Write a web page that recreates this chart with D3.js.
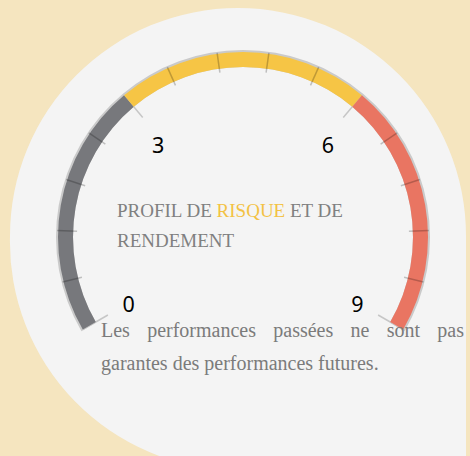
<!DOCTYPE html>
<html>
<head>
<meta charset="utf-8">
<script src="https://cdn.jsdelivr.net/npm/d3@7"></script>
<style>
	html, body { margin: 0; padding: 0; background: #f5e5bf; }
	svg { display: block; }
</style>
</head>
<body>
<script>
// gauge data
const bounds = [0, 3, 6, 9];
const bandColors = ["#77787c", "#f6c545", "#e97562"];
const majorTicks = [0, 3, 6, 9];
const minorTicks = [0.6, 1.2, 1.8, 2.4, 3.6, 4.2, 4.8, 5.4, 6.6, 7.2, 7.8, 8.4];
const titleParts = [["PROFIL DE ", "#808080"], ["RISQUE", "#f3c244"], [" ET DE", "#808080"]];
const titleLine2 = "RENDEMENT";
const footerLine1 = ["Les", "performances", "passées", "ne", "sont", "pas"];
const footerLine2 = "garantes des performances futures.";

const width = 470, height = 456;
const cx = 243, cy = 237;
const rOuter = 185, rInner = 170;

let svg = d3.select("body").append("svg")
	.attr("width", width)
	.attr("height", height);

// background bubble
svg.append("path")
	.attr("d", "M10,236 A228,228 0 0 1 238,8 A228,228 0 0 1 466,236 L466,470 L238,470 A228,228 0 0 1 10,236 Z")
	.attr("fill", "#f4f4f4");

let angle = d3.scaleLinear()
	.domain([0, 9])
	.range([-120 * Math.PI / 180, 120 * Math.PI / 180]);

let pt = (v, r) => [r * Math.sin(angle(v)), -r * Math.cos(angle(v))];

let g = svg.append("g")
	.attr("transform", `translate(${cx}, ${cy})`);

// shadow ring
g.append("path")
	.attr("d", d3.arc()({innerRadius: rInner, outerRadius: rOuter + 2, startAngle: angle(0) - 0.004, endAngle: angle(9) + 0.004}))
	.attr("fill", "#cacaca");

// major ticks (under the bands)
g.selectAll(".major")
	.data(majorTicks)
	.join("line")
		.attr("class", "major")
		.attr("x1", d => pt(d, rOuter)[0])
		.attr("y1", d => pt(d, rOuter)[1])
		.attr("x2", d => pt(d, 156)[0])
		.attr("y2", d => pt(d, 156)[1])
		.attr("stroke", "#c6c6c6")
		.attr("stroke-width", 1.5);

let arc = d3.arc()
	.innerRadius(rInner)
	.outerRadius(rOuter);

g.selectAll(".band")
	.data(d3.pairs(bounds))
	.join("path")
		.attr("class", "band")
		.attr("d", d => arc({startAngle: angle(d[0]), endAngle: angle(d[1])}))
		.attr("fill", (d, i) => bandColors[i]);

// minor ticks
g.selectAll(".minor")
	.data(minorTicks)
	.join("line")
		.attr("class", "minor")
		.attr("x1", d => pt(d, rOuter + 1)[0])
		.attr("y1", d => pt(d, rOuter + 1)[1])
		.attr("x2", d => pt(d, rInner - 4)[0])
		.attr("y2", d => pt(d, rInner - 4)[1])
		.attr("stroke", "rgba(0,0,0,0.22)")
		.attr("stroke-width", 1.5);

// value labels
g.selectAll(".label")
	.data(majorTicks)
	.join("text")
		.attr("class", "label")
		.attr("x", d => 132 * Math.sin(angle(d)))
		.attr("y", d => -125 * Math.cos(angle(d)) + 3.5)
		.attr("text-anchor", "middle")
		.attr("dominant-baseline", "central")
		.attr("font-family", "'Noto Sans', 'Open Sans', sans-serif")
		.attr("font-size", 21.5)
		.attr("fill", "#000")
		.text(d => d);

const serif = "'Liberation Serif', 'DejaVu Serif', serif";

// title
let title = svg.append("text")
	.attr("x", 117)
	.attr("y", 217)
	.attr("font-family", serif)
	.attr("font-size", 19);
title.selectAll("tspan")
	.data(titleParts)
	.join("tspan")
		.attr("fill", d => d[1])
		.style("white-space", "pre")
		.text(d => d[0]);

svg.append("text")
	.attr("x", 117)
	.attr("y", 247)
	.attr("font-family", serif)
	.attr("font-size", 19)
	.attr("fill", "#808080")
	.text(titleLine2);

// footer, first line justified
let left = 101, right = 464;
let words = svg.append("g").selectAll("text")
	.data(footerLine1)
	.join("text")
		.attr("y", 337)
		.attr("font-family", serif)
		.attr("font-size", 20)
		.attr("fill", "#7b7b7b")
		.text(d => d);

let widths = words.nodes().map(n => n.getComputedTextLength());
let gap = (right - left - d3.sum(widths)) / (footerLine1.length - 1);
let xpos = left;
words.each(function(d, i) {
	d3.select(this).attr("x", xpos);
	xpos += widths[i] + gap;
});

svg.append("text")
	.attr("x", left)
	.attr("y", 370)
	.attr("font-family", serif)
	.attr("font-size", 20)
	.attr("fill", "#7b7b7b")
	.text(footerLine2);
</script>
</body>
</html>
